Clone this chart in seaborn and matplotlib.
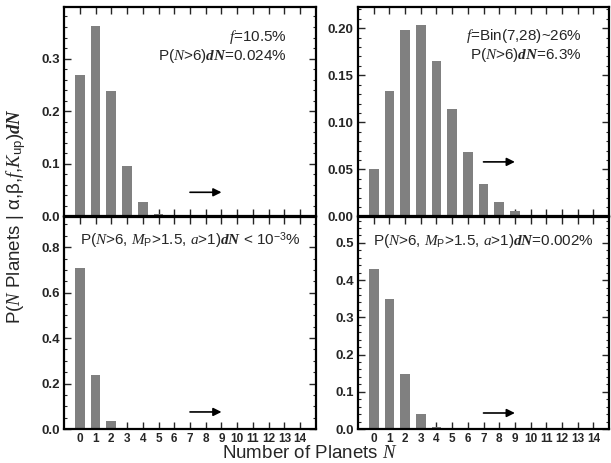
import matplotlib
matplotlib.use("Agg")
import matplotlib.pyplot as plt
from matplotlib.ticker import MultipleLocator, FormatStrFormatter
import seaborn as sns
import pandas as pd

# ---- data ----
n_planets = list(range(15))
p_top_left = [0.268, 0.361, 0.238, 0.095, 0.027, 0.004, 0, 0, 0, 0, 0, 0, 0, 0, 0]
p_top_right = [0.050, 0.133, 0.198, 0.203, 0.165, 0.114, 0.068, 0.034, 0.015, 0.006, 0.002, 0, 0, 0, 0]
p_bot_left = [0.708, 0.237, 0.035, 0, 0, 0, 0, 0, 0, 0, 0, 0, 0, 0, 0]
p_bot_right = [0.431, 0.350, 0.148, 0.040, 0.005, 0, 0, 0, 0, 0, 0, 0, 0, 0, 0]
xtick_labels = [str(n) for n in n_planets]

sns.set_theme(style="ticks")
plt.rcParams['font.family'] = ['Liberation Sans', 'DejaVu Sans']
plt.rcParams['mathtext.fontset'] = 'custom'
plt.rcParams['mathtext.rm'] = 'Liberation Sans'
plt.rcParams['mathtext.it'] = 'Liberation Serif:italic'
plt.rcParams['mathtext.bf'] = 'Liberation Serif:italic:bold'
plt.rcParams['mathtext.sf'] = 'Liberation Sans'

W, H = 611, 463
fig = plt.figure(figsize=(W / 100, H / 100), dpi=100)

def frac(x0, y0, x1, y1):
    return [x0 / W, 1 - y1 / H, (x1 - x0) / W, (y1 - y0) / H]

panels = [
    dict(vals=p_top_left, rect=frac(64, 7, 316, 216.5), ylim=0.398, major=0.1, minor=0.02, fmt='%.1f',
         arrow_y=0.046, xlabels=False),
    dict(vals=p_top_right, rect=frac(358, 7, 609, 216.5), ylim=0.2225, major=0.05, minor=0.01, fmt='%.2f',
         arrow_y=0.058, xlabels=False),
    dict(vals=p_bot_left, rect=frac(64, 216.5, 316, 429), ylim=0.935, major=0.2, minor=0.05, fmt='%.1f',
         arrow_y=0.075, xlabels=True),
    dict(vals=p_bot_right, rect=frac(358, 216.5, 609, 429), ylim=0.571, major=0.1, minor=0.02, fmt='%.1f',
         arrow_y=0.043, xlabels=True),
]

axes = []
for p in panels:
    ax = fig.add_axes(p['rect'])
    df = pd.DataFrame({'N': n_planets, 'P': p['vals']})
    sns.barplot(data=df, x='N', y='P', order=n_planets, color='#808080', saturation=1,
                width=0.62, ax=ax, edgecolor='none')
    ax.set_xlim(-1, 15)
    ax.set_ylim(0, p['ylim'])
    ax.set_xlabel('')
    ax.set_ylabel('')
    ax.yaxis.set_major_locator(MultipleLocator(p['major']))
    ax.yaxis.set_minor_locator(MultipleLocator(p['minor']))
    ax.yaxis.set_major_formatter(FormatStrFormatter(p['fmt']))
    ax.tick_params(axis='both', which='both', direction='in', top=True, right=True)
    ax.tick_params(axis='both', which='major', length=5, width=1.0, labelsize=9.5, pad=3)
    ax.tick_params(axis='y', which='minor', length=2.5, width=0.8)
    for lab in ax.get_yticklabels():
        lab.set_fontweight('bold')
    ax.set_xticks(n_planets)
    if p['xlabels']:
        ax.set_xticklabels(xtick_labels, fontweight='bold', fontsize=8.5)
    else:
        ax.set_xticklabels([])
    for s in ax.spines.values():
        s.set_linewidth(1.6)
        s.set_color('black')
    ax.annotate('', xy=(9, p['arrow_y']), xytext=(7, p['arrow_y']),
                arrowprops=dict(arrowstyle='-|>', color='black', lw=1.2, mutation_scale=12,
                                shrinkA=0, shrinkB=0))
    axes.append(ax)

fs = 11
axes[0].text(0.885, 0.855, r'$f$=10.5%', transform=axes[0].transAxes, ha='right', va='center', fontsize=fs)
axes[0].text(0.885, 0.765, r'P($N$>6)$\mathbf{dN}$=0.024%', transform=axes[0].transAxes,
             ha='right', va='center', fontsize=fs)
axes[1].text(0.89, 0.86, r'$f$=Bin(7,28)~26%', transform=axes[1].transAxes, ha='right', va='center', fontsize=fs)
axes[1].text(0.89, 0.77, r'P($N$>6)$\mathbf{dN}$=6.3%', transform=axes[1].transAxes,
             ha='right', va='center', fontsize=fs)
axes[2].text(0.5, 0.885, r'P($N$>6, $M_{\mathrm{P}}$>1.5, $a$>1)$\mathbf{dN}$ < 10$^{-3}$%',
             transform=axes[2].transAxes, ha='center', va='center', fontsize=fs)
axes[3].text(0.5, 0.885, r'P($N$>6, $M_{\mathrm{P}}$>1.5, $a$>1)$\mathbf{dN}$=0.002%',
             transform=axes[3].transAxes, ha='center', va='center', fontsize=fs)

fig.text(310 / W, 1 - 453 / H, r'Number of Planets $N$', ha='center', va='center', fontsize=13.5)
fig.text(16 / W, 1 - 216 / H, r'P($N$ Planets | $\mathrm{\alpha}$,$\mathrm{\beta}$,$f$,$K_{\mathrm{up}}$)$\mathbf{dN}$',
         rotation=90, ha='center', va='center', fontsize=13.5)

fig.savefig('out.png', dpi=100)
